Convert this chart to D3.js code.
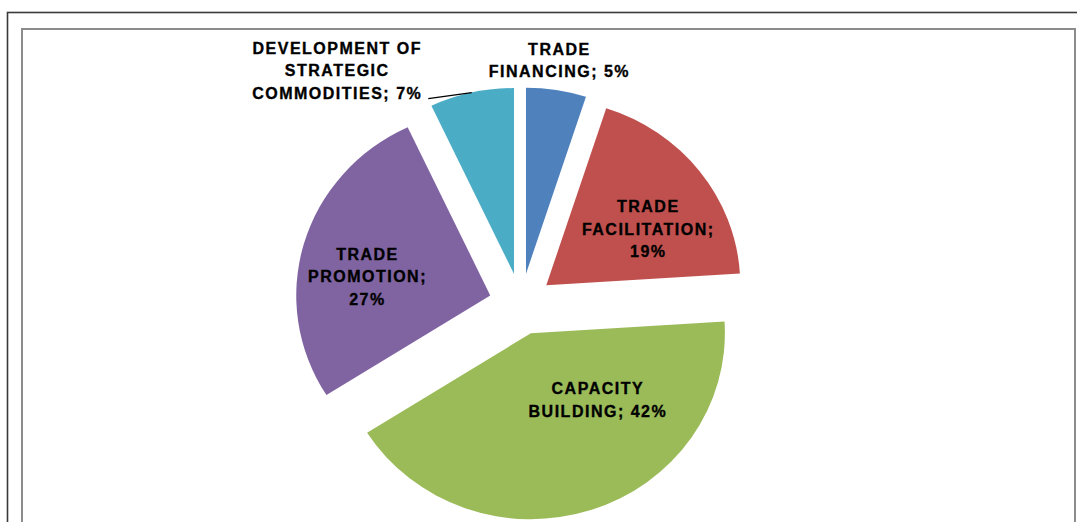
<!DOCTYPE html>
<html>
<head>
<meta charset="utf-8">
<script src="https://cdn.jsdelivr.net/npm/d3@7"></script>
<style>
  html, body { margin: 0; padding: 0; background: #fff; }
  svg { display: block; }
  .lbl { font-family: "Liberation Sans", Arial, sans-serif; font-weight: bold; font-size: 16px; letter-spacing: 1.5px; fill: #000; stroke: #000; stroke-width: 0.35px; }
</style>
</head>
<body>
<svg id="chart" width="1077" height="522"></svg>
<script>
// ---- data ----
const categories = ["TRADE FINANCING", "TRADE FACILITATION", "CAPACITY BUILDING", "TRADE PROMOTION", "DEVELOPMENT OF STRATEGIC COMMODITIES"];
const values = [5, 19, 42, 27, 7];
const labelLines = [
  ["TRADE", "FINANCING; 5%"],
  ["TRADE", "FACILITATION;", "19%"],
  ["CAPACITY", "BUILDING; 42%"],
  ["TRADE", "PROMOTION;", "27%"],
  ["DEVELOPMENT OF", "STRATEGIC", "COMMODITIES; 7%"]
];
const colors = ["#4F81BD", "#C0504D", "#9BBB59", "#8064A2", "#4BACC6"];

// ---- layout / style ----
const W = 1077, H = 522;
const cx = 521, cy = 304;
const rx = 194, ry = 186;           // chart is slightly stretched horizontally
const explode = 0.165;              // fraction of radius
const labelFrac = [1.2, 0.6, 0.6, 0.6, 1.2];
const labelNudge = [[-4, 7], [9, 12], [30, -40], [-12, 12], [-127, 14]];
const lineH = 22.5;

const svg = d3.select("#chart");

// frames
svg.append("rect").attr("x", 7.5).attr("y", 12.5).attr("width", W + 20).attr("height", H + 20)
  .attr("fill", "none").attr("stroke", "#3a3a3a").attr("stroke-width", 1.6);
svg.append("rect").attr("x", 22).attr("y", 29).attr("width", 1053).attr("height", H + 20)
  .attr("fill", "none").attr("stroke", "#8c8c8c").attr("stroke-width", 2);

const pie = d3.pie().sort(null).value(d => d)(values);
const arc = d3.arc().innerRadius(0).outerRadius(ry);
const sx = rx / ry;

function apex(d) {
  const m = (d.startAngle + d.endAngle) / 2;
  return [cx + Math.sin(m) * explode * rx, cy - Math.cos(m) * explode * ry];
}

svg.append("g").selectAll("path").data(pie).join("path")
  .attr("transform", d => { const a = apex(d); return `translate(${a[0]},${a[1]}) scale(${sx},1)`; })
  .attr("d", arc)
  .attr("fill", (d, i) => colors[i]);

// labels
pie.forEach((d, i) => {
  const m = (d.startAngle + d.endAngle) / 2;
  const a = apex(d);
  const lx = a[0] + Math.sin(m) * labelFrac[i] * rx + labelNudge[i][0];
  const ly = a[1] - Math.cos(m) * labelFrac[i] * ry + labelNudge[i][1];
  const lines = labelLines[i];
  const y0 = ly - (lines.length - 1) * lineH / 2;
  const t = svg.append("text").attr("class", "lbl").attr("text-anchor", "middle");
  lines.forEach((s, k) => {
    t.append("tspan").attr("x", lx + 1).attr("y", y0 + k * lineH + 6).text(s);
  });
  if (i === 4) {
    const last = t.selectAll("tspan").nodes()[lines.length - 1];
    const bb = last.getBBox();
    const ex = a[0] + Math.sin(m) * rx, ey = a[1] - Math.cos(m) * ry;
    svg.append("path")
      .attr("d", `M${bb.x + bb.width + 6},${y0 + (lines.length - 1) * lineH + 6} L${ex},${ey}`)
      .attr("stroke", "#000").attr("stroke-width", 1.3).attr("fill", "none");
  }
});
</script>
</body>
</html>
